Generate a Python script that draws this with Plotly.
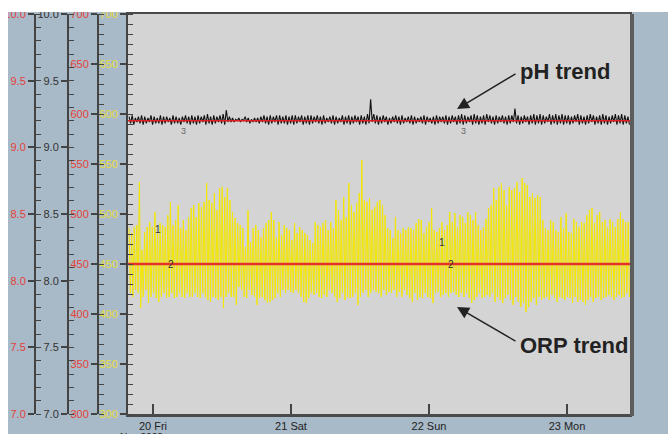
import pandas as pd
import plotly.graph_objects as go

W, H = 668, 434

# ---------------- data ----------------
day_ticks = ["2008-11-20", "2008-11-21", "2008-11-22", "2008-11-23"]
day_labels = ["20 Fri", "21 Sat", "22 Sun", "23 Mon"]

x_start = "2008-11-19 19:39:08"
x_end = "2008-11-23 10:57:23"
data_start = "2008-11-19 19:50:00"
data_end = "2008-11-23 10:52:00"

# ORP (mV): successive local maxima and minima of the trend, read left to right
orp_peaks = [
    486, 481, 487, 489, 532, 464, 482, 487, 492, 487, 502, 481, 491, 489, 487, 499, 512, 489, 494, 509,
    486, 494, 484, 497, 506, 509, 497, 511, 507, 512, 531, 514, 511, 521, 504, 526, 527, 517, 526, 514,
    502, 496, 491, 489, 486, 467, 504, 472, 486, 489, 484, 477, 486, 491, 494, 502, 494, 477, 492, 479,
    489, 486, 484, 474, 491, 481, 487, 484, 481, 479, 474, 471, 492, 489, 487, 491, 494, 484, 492, 486,
    514, 504, 494, 517, 497, 531, 509, 502,
    511, 521, 554, 514, 512, 516, 504, 507, 512, 514, 509, 499, 486, 484, 476, 497, 484, 481, 486, 484,
    487, 486, 484, 491, 495, 494, 481, 487, 492, 506, 484, 482, 486, 492, 484, 489, 502, 492, 501, 487,
    499, 497, 491, 502, 499, 494, 502, 489, 484, 487, 495,
    506, 509, 526, 514, 527, 531, 524, 509, 527, 524, 526, 532, 522, 536, 531, 529, 517, 521, 516, 519,
    517, 494, 486, 484, 494, 492, 484, 482, 497, 486, 501, 482, 481, 495, 492, 487, 492, 491, 499, 504,
    506, 491, 499, 502, 492, 494, 487, 495, 492, 487, 495, 502, 495, 492, 492,
]
orp_troughs = [
    421, 417, 424, 421, 406, 417, 424, 411, 417, 421, 416, 412, 417, 421, 416, 417, 421, 416, 417, 421,
    417, 416, 421, 417, 417, 421, 417, 416, 421, 417, 414, 412, 417, 416, 414, 417, 406, 417, 421, 417,
    417, 409, 427, 424, 417, 416, 424, 419, 417, 409, 416, 417, 414, 411, 412, 414, 416, 421, 417, 424,
    421, 424, 422, 421, 424, 421, 417, 412, 411, 416, 421, 419, 421, 417, 416, 419, 417, 424, 421, 417,
    412, 416, 421, 414, 417, 416, 417, 421,
    409, 417, 421, 424, 417, 421, 424, 422, 421, 417, 424, 419, 422, 421, 424, 417, 422, 417, 424, 419,
    416, 412, 421, 414, 417, 416, 421, 417, 416, 411, 421, 422, 417, 419, 421, 417, 421, 422, 419, 417,
    421, 417, 421, 416, 411, 414, 417, 421, 416, 417, 419,
    417, 421, 412, 417, 414, 411, 416, 419, 414, 409, 417, 412, 407, 411, 402, 407, 412, 416, 409, 417,
    414, 416, 417, 414, 419, 416, 412, 417, 416, 414, 417, 416, 411, 417, 412, 414, 412, 409, 414, 417,
    412, 416, 417, 414, 416, 417, 419, 417, 414, 417, 419, 416, 417, 421, 417,
]

# pH: successive local maxima and minima of the trend
ph_highs = [
    9.23, 9.24, 9.22, 9.23, 9.24, 9.23, 9.22, 9.24, 9.23, 9.22,
    9.24, 9.23, 9.23, 9.22, 9.24, 9.23, 9.22, 9.23, 9.24, 9.23,
    9.24, 9.23, 9.24, 9.23, 9.24, 9.25, 9.23, 9.24, 9.23, 9.24,
    9.25, 9.28, 9.23, 9.22, 9.21, 9.22, 9.21, 9.23, 9.22, 9.21,
    9.22, 9.22, 9.23, 9.24, 9.23, 9.24, 9.23, 9.24, 9.24, 9.23,
    9.24, 9.23, 9.24, 9.24, 9.23, 9.24, 9.23, 9.24, 9.24, 9.23,
    9.24, 9.23, 9.24, 9.22, 9.23, 9.24, 9.23, 9.22, 9.24, 9.23,
    9.24, 9.23, 9.24, 9.23, 9.24, 9.23, 9.25, 9.36, 9.25, 9.24,
    9.23, 9.24, 9.23, 9.22, 9.23, 9.24, 9.23, 9.24, 9.22, 9.23,
    9.24, 9.23, 9.22, 9.23, 9.24, 9.23, 9.22, 9.23, 9.24, 9.23,
    9.23, 9.24, 9.23, 9.24, 9.23, 9.24, 9.25, 9.24, 9.23, 9.24,
    9.25, 9.24, 9.23, 9.24, 9.25, 9.24, 9.23, 9.24, 9.23, 9.24,
    9.23, 9.24, 9.24, 9.29, 9.24, 9.23, 9.24, 9.23, 9.24, 9.25,
    9.24, 9.25, 9.24, 9.23, 9.25, 9.24, 9.25, 9.24, 9.25, 9.24,
    9.24, 9.23, 9.24, 9.25, 9.24, 9.23, 9.24, 9.25, 9.24, 9.23,
    9.24, 9.25, 9.24, 9.23, 9.24, 9.25, 9.24, 9.25, 9.24, 9.23,
]
ph_lows = [
    9.18, 9.17, 9.19, 9.18, 9.17, 9.18, 9.19, 9.17, 9.18, 9.18,
    9.17, 9.18, 9.19, 9.17, 9.18, 9.18, 9.17, 9.19, 9.18, 9.17,
    9.18, 9.17, 9.18, 9.19, 9.17, 9.18, 9.17, 9.18, 9.19, 9.18,
    9.17, 9.19, 9.19, 9.19, 9.20, 9.19, 9.20, 9.19, 9.18, 9.19,
    9.19, 9.18, 9.19, 9.18, 9.17, 9.18, 9.19, 9.17, 9.18, 9.18,
    9.17, 9.18, 9.17, 9.18, 9.19, 9.17, 9.18, 9.17, 9.18, 9.19,
    9.18, 9.17, 9.18, 9.19, 9.18, 9.17, 9.18, 9.19, 9.17, 9.18,
    9.17, 9.18, 9.19, 9.17, 9.18, 9.17, 9.18, 9.19, 9.18, 9.17,
    9.18, 9.19, 9.17, 9.18, 9.19, 9.18, 9.17, 9.18, 9.19, 9.18,
    9.17, 9.18, 9.19, 9.18, 9.17, 9.19, 9.18, 9.17, 9.18, 9.19,
    9.18, 9.17, 9.18, 9.19, 9.17, 9.18, 9.17, 9.18, 9.19, 9.17,
    9.18, 9.17, 9.18, 9.17, 9.19, 9.18, 9.17, 9.18, 9.19, 9.18,
    9.17, 9.18, 9.19, 9.18, 9.17, 9.18, 9.19, 9.17, 9.18, 9.17,
    9.18, 9.17, 9.18, 9.19, 9.17, 9.18, 9.17, 9.18, 9.17, 9.18,
    9.17, 9.18, 9.19, 9.17, 9.18, 9.17, 9.18, 9.19, 9.17, 9.18,
    9.17, 9.18, 9.17, 9.18, 9.19, 9.17, 9.18, 9.17, 9.18, 9.17,
]

orp_setpoint = 450
ph_setpoint = 9.2

# ---------------- build series ----------------
orp = [v for pair in zip(orp_peaks, orp_troughs) for v in pair]
ph = [v for pair in zip(ph_highs, ph_lows) for v in pair]
orp_t = pd.date_range(data_start, data_end, periods=len(orp))
ph_t = pd.date_range(data_start, data_end, periods=len(ph))


def fx(px):
    return px / W


def fy(py):
    return 1 - py / H


FONT = "Liberation Sans, Arial, Helvetica, sans-serif"
RED = "#e5423a"
DARK = "#333333"
YEL = "#e9df3c"
AX = "#444444"

fig = go.Figure()
fig.add_trace(go.Scatter(x=orp_t, y=orp, mode="lines", yaxis="y",
                         line=dict(color="#f3e600", width=1), hoverinfo="skip"))
fig.add_trace(go.Scatter(x=[x_start, x_end], y=[orp_setpoint, orp_setpoint], mode="lines",
                         yaxis="y", line=dict(color="#e4312b", width=2.5), hoverinfo="skip"))
fig.add_trace(go.Scatter(x=ph_t, y=ph, mode="lines", yaxis="y3",
                         line=dict(color="#111111", width=1.1), hoverinfo="skip"))
fig.add_trace(go.Scatter(x=[x_start, x_end], y=[ph_setpoint, ph_setpoint], mode="lines",
                         yaxis="y3", line=dict(color="#e01e1e", width=1.5), hoverinfo="skip"))


def yax(rng, dtick, mdtick, color, fmt=None, **kw):
    d = dict(range=rng, tick0=rng[0], dtick=dtick, ticks="outside", ticklen=6,
             tickwidth=1.5, tickcolor=AX, showline=True, linecolor=AX, linewidth=2,
             showgrid=False, zeroline=False, automargin=False, fixedrange=True,
             tickfont=dict(family=FONT, size=11, color=color),
             minor=dict(ticks="inside", ticklen=5, dtick=mdtick, tick0=rng[0],
                        tickcolor=AX, tickwidth=1.2, showgrid=False))
    if fmt:
        d["tickformat"] = fmt
    d.update(kw)
    return d


fig.update_layout(
    width=W, height=H, autosize=False,
    margin=dict(l=0, r=0, t=0, b=0, pad=0),
    paper_bgcolor="#a8b9c7",
    plot_bgcolor="#d4d4d4",
    showlegend=False,
    xaxis=dict(domain=[fx(128), fx(630)], type="date", range=[x_start, x_end],
               tickvals=day_ticks, ticktext=day_labels, ticks="inside", ticklen=10,
               tickwidth=1.5, tickcolor=AX, showline=True, linecolor="#4a4a4a",
               linewidth=3, mirror=True, showgrid=False, zeroline=False,
               automargin=False, fixedrange=True,
               tickfont=dict(family=FONT, size=11, color="#222222")),
    yaxis=yax([300, 700], 50, 10, YEL, domain=[fy(414), fy(14)], anchor="x", mirror=True),
    yaxis2=yax([300, 700], 50, 10, RED, overlaying="y", anchor="free", position=fx(98), side="left"),
    yaxis3=yax([7, 10], 0.5, 0.1, DARK, fmt=".1f", overlaying="y", anchor="free",
               position=fx(68), side="left"),
    yaxis4=yax([7, 10], 0.5, 0.1, RED, fmt=".1f", overlaying="y", anchor="free",
               position=fx(35), side="left"),
)
# empty traces so the extra axes render
fig.add_trace(go.Scatter(x=[x_start], y=[None], yaxis="y2", showlegend=False, hoverinfo="skip"))
fig.add_trace(go.Scatter(x=[x_start], y=[None], yaxis="y4", showlegend=False, hoverinfo="skip"))

shapes = [
    dict(type="rect", xref="paper", yref="paper", x0=0, x1=fx(8), y0=0, y1=1,
         fillcolor="white", line=dict(width=0), layer="above"),
    dict(type="rect", xref="paper", yref="paper", x0=0, x1=1, y0=fy(12), y1=1,
         fillcolor="white", line=dict(width=0), layer="above"),
    dict(type="rect", xref="paper", yref="paper", x0=fx(630), x1=fx(634), y0=fy(416), y1=fy(14),
         fillcolor="#5c5c5c", line=dict(width=0), layer="above"),
]
fig.update_layout(shapes=shapes)

ann = []
big = dict(family="Liberation Sans, Arial, sans-serif", size=22, color="#222222")
ann.append(dict(xref="paper", yref="paper", x=fx(518), y=fy(72), text="<b>pH trend</b>",
                showarrow=False, xanchor="left", yanchor="middle", font=big))
ann.append(dict(xref="paper", yref="paper", x=fx(518), y=fy(345), text="<b>ORP trend</b>",
                showarrow=False, xanchor="left", yanchor="middle", font=big))
for hx, hy, tx, ty in [(457, 109, 517, 73), (457, 307, 517, 342)]:
    ann.append(dict(xref="paper", yref="paper", x=fx(hx), y=fy(hy), ax=tx - hx, ay=ty - hy,
                    text="", showarrow=True, arrowhead=2, arrowsize=1.6, arrowwidth=1.5,
                    arrowcolor="#222222"))
small = dict(family=FONT, size=10, color="#333333")
for tx, ty, t in [(153, 229, "1"), (442, 242, "1"), (166, 264, "2"), (456, 264, "2")]:
    ann.append(dict(xref="paper", yref="paper", x=fx(tx), y=fy(ty), text=t,
                    showarrow=False, font=small))
for tx, ty in [(179, 124), (468, 124)]:
    ann.append(dict(xref="paper", yref="paper", x=fx(tx), y=fy(ty), text="3",
                    showarrow=False, font=dict(family=FONT, size=9, color="#666666")))
ann.append(dict(xref="paper", yref="paper", x=fx(118), y=fy(430), text="Nov 2008",
                showarrow=False, xanchor="left", yanchor="top",
                font=dict(family=FONT, size=10, color="#222222")))
fig.update_layout(annotations=ann)

fig.write_html("out.html", config={"displayModeBar": False},
               post_script="document.body.style.margin='0';")
